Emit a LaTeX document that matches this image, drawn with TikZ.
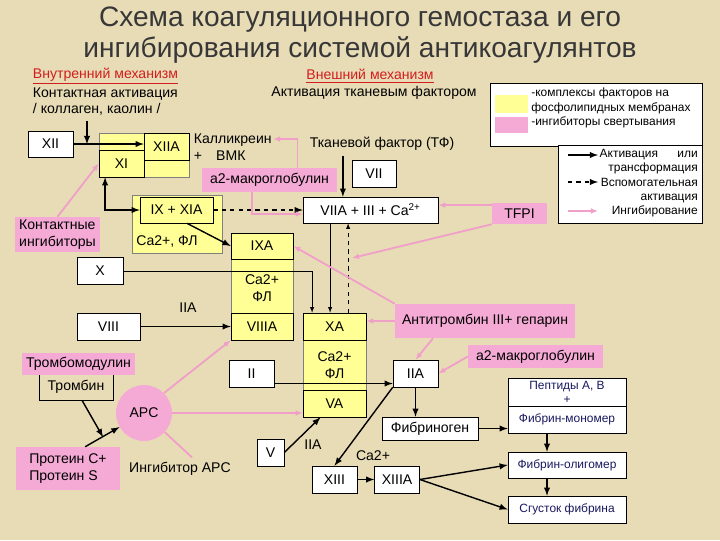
\documentclass[tikz,border=0pt]{standalone}
\usepackage{fontspec}
\setmainfont{Liberation Sans}
\usetikzlibrary{shapes, arrows.meta, positioning}
\definecolor{paper}{RGB}{232,220,182}
\definecolor{cplx}{RGB}{255,255,150}
\definecolor{inhib}{RGB}{245,170,214}
\definecolor{inhline}{RGB}{240,160,200}
\definecolor{redtitle}{RGB}{210,30,30}
\definecolor{navy}{RGB}{25,25,95}
\definecolor{titlegray}{RGB}{55,55,55}
\tikzstyle{block} = [draw, fill=white, rectangle, inner sep=0pt]
\tikzstyle{cblock} = [block, fill=cplx]
\tikzstyle{iblock} = [fill=inhib, rectangle, inner sep=0pt]
\tikzstyle{area} = [draw=gray, fill=cplx, rectangle, inner sep=0pt]
\tikzstyle{fibbox} = [block, text=navy, font=\fontsize{8.5}{10}\selectfont]
\tikzstyle{act} = [draw, line width=1pt, ->]
\tikzstyle{inh} = [draw=inhline, line width=1.3pt, -{Latex[length=5pt,width=4pt]}]
\tikzset{wh/.style 2 args={minimum width=#1*0.025cm, minimum height=#2*0.025cm}}

\begin{document}
\begin{tikzpicture}[x=0.025cm, y=-0.025cm, >=latex, every node/.style={font=\fontsize{10}{12}\selectfont}]
    \fill[paper] (0,0) rectangle (720,540);
    \node[align=center, text=titlegray, font=\fontsize{20}{21.5}\selectfont] (title) at (360,35) {Схема коагуляционного гемостаза и его\\ингибирования системой антикоагулянтов};
    \node[text=redtitle, anchor=west] (intr) at (28,76) {\underline{Внутренний механизм}};
    \node[anchor=west, align=left] (contact) at (28,101.5) {Контактная активация\\/ коллаген, каолин /};
    \node[text=redtitle] (extr) at (370,76) {\underline{Внешний механизм}};
    \node (extact) at (374,93) {Активация тканевым фактором};

    \node[draw, fill=white, wh={212}{63}] (leg1) at (596,114.5) {};
    \node[fill=cplx, wh={33}{18}] (swY) at (511.5,104) {};
    \node[fill=inhib, wh={33}{16}] (swP) at (511.5,125) {};
    \node[anchor=north west, align=left, inner sep=0pt, font=\fontsize{8.5}{10}\selectfont] (legtxt) at (531,88) {-комплексы факторов на\\фосфолипидных мембранах\\-ингибиторы свертывания};
    \node[draw, fill=white, wh={144}{78}] (leg2) at (630,184) {};
    \node[anchor=north east, align=right, text width=2.45cm, inner sep=0pt, font=\fontsize{8.5}{10.2}\selectfont] (legtxt2) at (698,149) {\makebox[2.45cm]{Активация\hfill или}\\трансформация\\Вспомогательная\\активация\\Ингибирование};
    \draw[act] (568,155) -- (598,155);
    \draw[act, dashed] (568,182) -- (598,182);
    \draw[inh] (568,211) -- (598,211);

    \node[block, wh={45}{26}] (XII) at (50.5,144) {XII};
    \node[area, wh={90}{44}] (XIblk) at (144,155) {};
    \node[cblock, wh={45}{27}] (XIIA) at (166.5,146.5) {XIIA};
    \node[cblock, wh={45}{27}] (XI) at (121.5,163.5) {XI};
    \node[anchor=west, align=left] (kal) at (189,147.5) {Калликреин\\+\quad ВМК};
    \coordinate (kalend) at (273,139);
    \node[iblock, wh={135}{24}] (a2m) at (269.5,180) {а2-макроглобулин};
    \node (TF) at (382,144) {Тканевой фактор (ТФ)};
    \node[block, wh={44}{27}] (VII) at (374,173.5) {VII};
    \node[block, wh={135}{26}] (VIIA) at (370.5,210) {VIIA + III + Ca\textsuperscript{2+}};
    \node[iblock, wh={55}{21}] (TFPI) at (519.5,213.5) {TFPI};
    \coordinate (tfx) at (352,258);
    \node[iblock, wh={85}{35}, align=left] (CI) at (57.5,234.5) {Контактные\\ингибиторы};

    \node[area, wh={90}{58}] (IXblk) at (177,224) {};
    \node[cblock, wh={73}{26}] (IX) at (176.5,210) {IX + XIA};
    \node (caIX) at (167,241) {Ca2+, ФЛ};
    \node[area, wh={62}{107}] (IXcol) at (262,286.5) {};
    \node[cblock, wh={62}{26}] (IXA) at (262,246) {IXA};
    \node[cblock, wh={62}{27}] (VIIIA) at (262,326.5) {VIIIA};
    \node[block, wh={46}{27}] (X) at (100,271) {X};
    \node[block, wh={63}{27}] (VIII) at (108.5,326.5) {VIII};
    \node (IIAviii) at (188,308) {IIA};

    \node[area, wh={63}{104}] (XAcol) at (334.5,365) {};
    \node[cblock, wh={63}{27}] (XA) at (334.5,326.5) {XA};
    \node[cblock, wh={63}{27}] (VA) at (334.5,403.5) {VA};
    \node[align=center] (caXA) at (334.5,365) {Ca2+\\ФЛ};
    \node[iblock, wh={180}{34}] (AT) at (485,321) {Антитромбин III+ гепарин};
    \node[iblock, wh={135}{23}] (a2mb) at (535.5,356.5) {а2-макроглобулин};
    \node[block, wh={45}{27}] (IIA) at (415.5,373.5) {IIA};
    \node[block, wh={45}{27}] (II) at (251.5,373.5) {II};
    \node[block, wh={96}{23}] (Fbg) at (430,428.5) {Фибриноген};
    \node[fibbox, wh={118}{28}, align=center] (Pep) at (567,392) {Пептиды А, В\\+};
    \node[fibbox, wh={118}{27}] (Mono) at (567,419.5) {Фибрин-мономер};
    \node[fibbox, wh={118}{26}] (Olig) at (567,465) {Фибрин-олигомер};
    \node[fibbox, wh={118}{27}] (Clot) at (567,509.5) {Сгусток фибрина};
    \node[block, wh={45}{27}] (XIII) at (334.5,479.5) {XIII};
    \node[block, wh={45}{27}, right=0.425cm of XIII] (XIIIA) {XIIIA};
    \node (caXIII) at (373,456) {Ca2+};
    \node[block, wh={27}{27}] (V) at (270.5,452.5) {V};
    \node (IIAv) at (313,445) {IIA};

    \node[circle, fill=inhib, minimum size=56*0.025cm, inner sep=0pt] (APC) at (144,413) {APC};
    \node (inhAPC) at (180,469) {Ингибитор APC};
    \node[draw, wh={74}{26}] (Thr) at (76,387) {Тромбин};
    \node[iblock, wh={113}{22}] (Thm) at (78.5,364) {Тромбомодулин};
    \node[iblock, wh={104}{43}, align=left] (Prot) at (68,468.5) {Протеин С+\\Протеин S};
    \coordinate (pj) at (103,437);
    \coordinate (cj) at (87,144);

    \draw[act] (XII.east) -- (XII.east -| XIIA.west);
    \draw[act] (contact.south -| cj) -- (cj);
    \draw[act, <->] ([xshift=-0.41cm]XI.south) |- (IX.west);
    \draw[act, dashed] (IX.east) -- (VIIA.west);
    \draw[act] ([xshift=0.26cm]IX.south) -- (IXA.west);
    \draw[thin, ->] (X.east) -| ([xshift=-0.56cm]XA.north);
    \node[fill=cplx, inner sep=1pt, align=center] (caIXA) at (262,288) {Ca2+\\ФЛ};
    \draw[act] (VIII.east) -- (VIIIA.west);
    \draw[act] ([xshift=-0.69cm]VIIA.north |- TF.south) -- ([xshift=-0.69cm]VIIA.north);
    \draw[thin, ->] ([xshift=-1.01cm]VIIA.south) -- ([xshift=-1.01cm]VIIA.south |- XA.north);
    \draw[thin, dashed, ->] ([xshift=0.34cm]XA.north) -- ([xshift=0.34cm]XA.north |- VIIA.south);
    \draw[act] ([yshift=-0.25cm]II.east) -- ([yshift=-0.25cm]IIA.west);
    \draw[act] (IIA.south) -- (IIA.south |- Fbg.north);
    \draw[act] (IIA.south west) -- (XIII.north);
    \draw[act] (XIII) -- (XIIIA);
    \draw[act] (V.east) -- ([xshift=-0.35cm]VA.south);
    \draw[act] (Fbg.east) -- (Fbg.east -| Mono.west);
    \draw[act] ([xshift=-0.5cm]Mono.south) -- ([xshift=-0.5cm]Olig.north);
    \draw[act] ([xshift=-0.5cm]Olig.south) -- ([xshift=-0.5cm]Clot.north);
    \draw[act] (XIIIA.east) -- (Olig.west);
    \draw[act] (XIIIA.east) -- (Clot.west);
    \draw[act] ([xshift=0.15cm]Thr.south) -- (pj);
    \draw[act] ([xshift=0.43cm]Prot.north) -- (APC);

    \draw[inh] (CI.north) -- (XI.west);
    \draw[inh] ([xshift=0.7cm]a2m.north) |- (kalend);
    \draw[inh] ([xshift=-0.44cm]a2m.south) |- ([yshift=-0.1cm]VIIA.west);
    \draw[inh] ([yshift=0.21cm]TFPI.west) -- ([yshift=0.21cm]TFPI.west -| VIIA.east);
    \draw[inh] (TFPI.south west) -- (tfx);
    \draw[inh] (AT.north west) -- (IXA.east);
    \draw[inh] (AT.west) -- (AT.west -| XA.east);
    \draw[inh] ([xshift=-1.3cm]AT.south) -- (IIA.north);
    \draw[inh] (a2mb.west) -- (IIA.east);
    \draw[inh] (APC.east) -- (APC.east -| VA.west);
    \draw[inh] (APC.north east) -- (VIIIA.south west);
    \draw[inh, -] ([xshift=0.3cm]inhAPC.north) -- (APC);
\end{tikzpicture}
\end{document}
